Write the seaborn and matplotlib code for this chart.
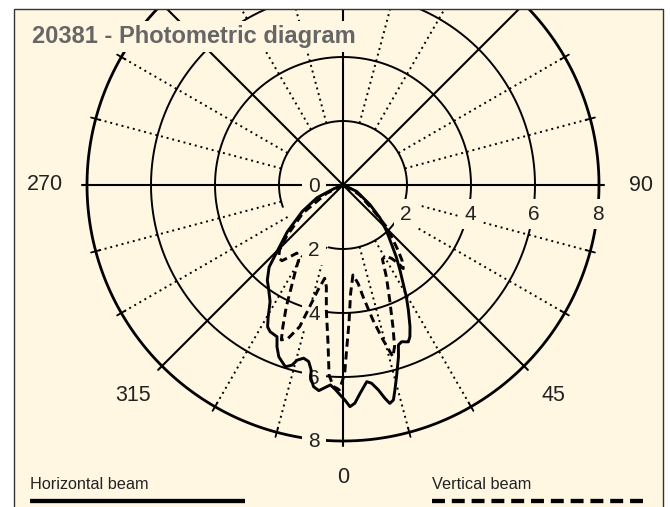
import numpy as np
import pandas as pd
import matplotlib
matplotlib.use("Agg")
import matplotlib.pyplot as plt
from matplotlib.patches import Rectangle
from matplotlib.lines import Line2D
import seaborn as sns

# -------------------------
# Data (angle in degrees from nadir, value)
# -------------------------
h_angles = [-90, -68, -64, -57, -50, -45.5, -42, -38.5, -35.5, -32,
            -29.5, -28, -26.4, -23.5, -22.2, -20.5, -17.6, -15.8, -14.7, -12.8,
            -11, -9.8, -9.4, -8.3, -6.7, -5, -3.6, -2.2, -0.3, 0.5,
            1.8, 3.1, 4.7, 6.9, 8.2, 9.8, 11.1, 12.1, 13.2, 14.2,
            15.6, 17.9, 19.1, 20.5, 22.6, 23.8, 25.3, 27.6, 29.5, 31,
            33.8, 36.5, 39.2, 43.3, 48.3, 54, 65, 90]
h_values = [0, 0.3, 0.9, 1.52, 2.27, 2.81, 3.45, 3.8, 4.0, 4.3,
            4.75, 5.02, 5.12, 5.17, 5.46, 5.73, 5.96, 5.85, 5.66, 5.55,
            5.62, 5.86, 6.13, 6.37, 6.47, 6.35, 6.26, 6.39, 6.62, 6.72,
            6.93, 6.83, 6.53, 6.19, 6.26, 6.5, 6.79, 6.98, 6.9, 6.61,
            6.22, 5.64, 5.29, 5.23, 5.31, 5.18, 4.9, 4.41, 4.02, 3.69,
            3.2, 2.8, 2.41, 1.99, 1.55, 1.04, 0.47, 0]

v_angles = [-90, -63, -55, -47.6, -44.3, -41.4, -38.9, -36.9, -34.1, -30.7,
            -28.9, -26.9, -25, -23, -21.7, -19.7, -17, -15.3, -13.4, -11.1,
            -9.3, -7.6, -5.4, -4.2, -2.8, -1, 0.5, 1.2, 2.5, 4,
            6.3, 8.7, 10.2, 12.5, 14.5, 16.2, 17.7, 19.4, 22.1, 25.3,
            28, 31, 33.5, 35.2, 35.8, 38, 40.2, 42.3, 46.1, 50.2,
            59, 64, 90]
v_values = [0, 0.58, 1.53, 2.4, 2.84, 3.04, 3.04, 2.83, 2.57, 2.71,
            3.08, 3.56, 4.19, 4.81, 5.21, 5.09, 4.63, 3.94, 3.37, 2.97,
            3.22, 3.94, 4.97, 5.95, 6.3, 6.4, 5.9, 5.2, 4.3, 3.4,
            2.83, 3.11, 3.55, 4.32, 5.0, 5.59, 5.3, 4.7, 3.88, 3.17,
            2.62, 2.6, 2.75, 3.0, 3.22, 3.0, 2.66, 2.32, 1.88, 1.22,
            0.61, 0.3, 0]

beam_names = ["Horizontal beam", "Vertical beam"]
ring_values = [2, 4, 6, 8]
axis_angles = [0, 45, 90, 135, 180, 225, 270, 315]
angle_labels = ["0", "45", "90", "315", "270"]
angle_label_pos = [0, 45, 90, -45, 270]
title = "20381 - Photometric diagram"

df = pd.concat([
    pd.DataFrame({"angle": np.deg2rad(h_angles), "value": h_values, "beam": beam_names[0]}),
    pd.DataFrame({"angle": np.deg2rad(v_angles), "value": v_values, "beam": beam_names[1]}),
], ignore_index=True)

# -------------------------
# Figure set-up
# -------------------------
sns.set_style("white")
plt.rcParams["font.family"] = ["Liberation Sans", "DejaVu Sans"]
cream = "#FFF7E2"
W, H = 670, 507
fig = plt.figure(figsize=(W / 100, H / 100), dpi=100, facecolor="white")

# cream panel behind everything
fig.add_artist(Rectangle((14 / W, -0.05), 649 / W, (H - 9) / H + 0.05,
                         transform=fig.transFigure, fc=cream, ec="none", zorder=-1))

cx, cy, px_per_unit, rmax = 343, 185, 32, 8.3
half = rmax * px_per_unit
ax = fig.add_axes([(cx - half) / W, (H - cy - half) / H, 2 * half / W, 2 * half / H],
                  projection="polar")
ax.set_theta_zero_location("S")
ax.set_theta_direction(1)
ax.set_ylim(0, rmax)
ax.axis("off")

# grid: rings
full = np.linspace(0, 2 * np.pi, 721)
for r in ring_values:
    if r == 2:
        # lower-left part of the inner ring is not drawn in the original
        th = np.deg2rad(np.linspace(-13, 290, 600))
        ax.plot(th, np.full_like(th, r), color="black", lw=1.4, zorder=2)
    else:
        ax.plot(full, np.full_like(full, r), color="black",
                lw=2.0 if r == 8 else 1.4, zorder=2)

# grid: solid axes every 45 deg, dotted every 15 deg
for a in range(0, 360, 15):
    t = np.deg2rad(a)
    if a in axis_angles:
        ax.plot([t, t], [0, 8.17], color="black", lw=1.5, zorder=2)
    else:
        ax.plot([t, t], [2, 8], color="black", lw=1.4, ls=(0, (1, 2.0)), zorder=2)
        ax.plot([t, t], [7.85, 8.15], color="black", lw=1.3, zorder=2)

# ring labels
box = dict(boxstyle="square,pad=0.28", fc=cream, ec="none")
for r in [0] + ring_values:
    ax.annotate(str(r), xy=(0, r), xytext=(-29, -1), textcoords="offset pixels",
                ha="center", va="center", fontsize=15, color="#222222", bbox=box, zorder=4)
for r in ring_values:
    ax.annotate(str(r), xy=(np.pi / 2, r), xytext=(-1, -29), textcoords="offset pixels",
                ha="center", va="center", fontsize=15, color="#222222", bbox=box, zorder=4)

for lab, a in zip(angle_labels, angle_label_pos):
    ax.text(np.deg2rad(a), 9.3 if lab != "0" else 9.15, lab, ha="center", va="center",
            fontsize=15.5, color="#222222")

# curves
sns.lineplot(data=df, x="angle", y="value", style="beam",
             dashes={beam_names[0]: "", beam_names[1]: (2.8, 1.6)},
             color="black", linewidth=2.1, estimator=None, sort=False,
             legend=False, ax=ax, zorder=5)
ax.set_xlabel("")
ax.set_ylabel("")

# title with background box
fig.text(32 / W, 1 - 43 / H, title, fontsize=17, fontweight="bold", color="#666666",
         va="baseline", ha="left",
         bbox=dict(boxstyle="square,pad=0.15", fc=cream, ec="none"), zorder=10)

# white strip above the frame and frame border
fig.add_artist(Rectangle((0, 1 - 9 / H), 1, 9 / H, transform=fig.transFigure,
                         fc="white", ec="none", zorder=11))
fig.add_artist(Rectangle((14 / W, -0.05), 649 / W, (H - 9) / H + 0.05,
                         transform=fig.transFigure, fc="none", ec="#333333",
                         lw=1.0, zorder=12))

# legend samples
fig.text(30 / W, 1 - 489 / H, beam_names[0], fontsize=11.7, color="#222222", va="baseline")
fig.text(432 / W, 1 - 489 / H, beam_names[1], fontsize=11.7, color="#222222", va="baseline")
fig.add_artist(Line2D([30 / W, 245 / W], [1 - 501 / H] * 2, transform=fig.transFigure,
                      color="black", lw=3.1, solid_capstyle="butt", zorder=12))
fig.add_artist(Line2D([432 / W, 648 / W], [1 - 501 / H] * 2, transform=fig.transFigure,
                      color="black", lw=3.1, ls=(0, (3.0, 1.6)), zorder=12))

fig.savefig("out.png", dpi=100, facecolor="white")
